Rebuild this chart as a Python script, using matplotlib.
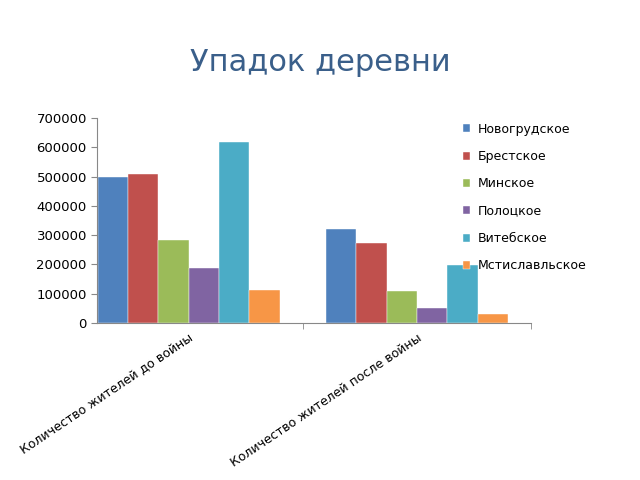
import matplotlib
matplotlib.use("Agg")
import matplotlib.pyplot as plt
import numpy as np

categories = ["Количество жителей до войны", "Количество жителей после войны"]
series_names = ["Новогрудское", "Брестское", "Минское", "Полоцкое", "Витебское", "Мстиславльское"]
values = [
    [500000, 320000],
    [510000, 275000],
    [283000, 110000],
    [187000, 52000],
    [620000, 198000],
    [112000, 32000],
]
colors = ["#4F81BD", "#C0504D", "#9BBB59", "#8064A2", "#4BACC6", "#F79646"]
yticks = [0, 100000, 200000, 300000, 400000, 500000, 600000, 700000]

fig = plt.figure(figsize=(6.4, 4.8), dpi=100)
ax = fig.add_axes([0.152, 0.327, 0.678, 0.427])
x = np.arange(len(categories))
w = 0.133
for i, (name, vals, c) in enumerate(zip(series_names, values, colors)):
    ax.bar(x + (i - 2.5) * w, vals, width=w, color=c, label=name, edgecolor="white", linewidth=0.3)
ax.set_xlim(-0.4, 1.5)
ax.set_ylim(0, 700000)
ax.set_yticks(yticks)
ax.set_yticklabels([str(v) for v in yticks], fontsize=9.5)
ax.set_xticks(x)
ax.set_xticklabels(categories, rotation=34, ha="right", rotation_mode="anchor", fontsize=9)
ax.set_xticks([0.5, 1.5], minor=True)
ax.tick_params(axis="x", which="major", length=0, pad=6)
ax.tick_params(axis="x", which="minor", length=4, color="#888888")
ax.tick_params(axis="y", length=4, color="#888888")
for s in ["top", "right"]:
    ax.spines[s].set_visible(False)
for s in ["left", "bottom"]:
    ax.spines[s].set_color("#888888")
fig.text(0.5, 0.87, "Упадок деревни", ha="center", va="center", fontsize=22, color="#3A5F8A")
ax.legend(loc="upper left", bbox_to_anchor=(0.715, 0.755), bbox_transform=fig.transFigure,
          frameon=False, fontsize=9, handlelength=0.6, handleheight=0.6,
          labelspacing=1.15, borderaxespad=0.0, handletextpad=0.6)
fig.savefig("out.png", dpi=100)
